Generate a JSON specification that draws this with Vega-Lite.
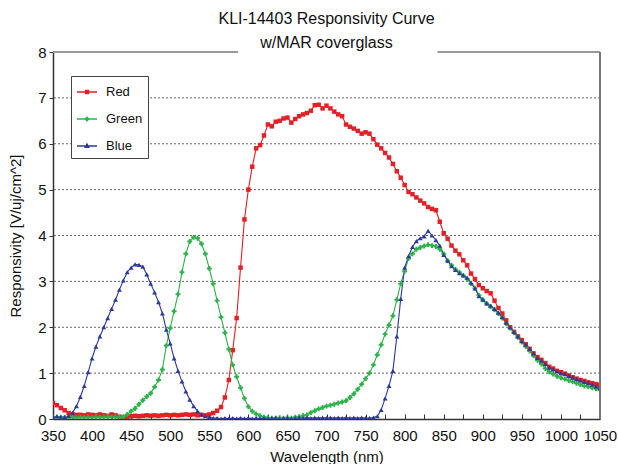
{
  "$schema": "https://vega.github.io/schema/vega-lite/v6.json",
  "autosize": {"type": "none"},
  "width": 547,
  "height": 367,
  "padding": {"left": 53, "top": 52, "right": 18, "bottom": 45},
  "background": "white",
  "config": {
    "font": "Liberation Sans",
    "view": {"stroke": null},
    "axis": {"labelFont": "Liberation Sans", "titleFont": "Liberation Sans", "labelColor": "#111", "titleColor": "#111", "titleFontWeight": "normal", "labelFontSize": 15, "titleFontSize": 15}
  },
  "title": {
    "text": ["KLI-14403 Responsivity Curve", "w/MAR coverglass"],
    "fontSize": 16,
    "fontWeight": "normal",
    "font": "Liberation Sans",
    "color": "#111",
    "lineHeight": 24,
    "anchor": "middle",
    "baseline": "bottom",
    "offset": 4,
    "dy": 26
  },
  "datasets": {
    "curves": [
      {"w":350,"Red":0.35,"Green":0.03,"Blue":0.05},
      {"w":355,"Red":0.30,"Green":0.04,"Blue":0.06},
      {"w":360,"Red":0.24,"Green":0.03,"Blue":0.05},
      {"w":365,"Red":0.19,"Green":0.04,"Blue":0.04},
      {"w":370,"Red":0.13,"Green":0.03,"Blue":0.07},
      {"w":375,"Red":0.10,"Green":0.04,"Blue":0.14},
      {"w":380,"Red":0.09,"Green":0.03,"Blue":0.28},
      {"w":385,"Red":0.09,"Green":0.04,"Blue":0.48},
      {"w":390,"Red":0.08,"Green":0.03,"Blue":0.72},
      {"w":395,"Red":0.10,"Green":0.04,"Blue":1.02},
      {"w":400,"Red":0.09,"Green":0.03,"Blue":1.32},
      {"w":405,"Red":0.08,"Green":0.05,"Blue":1.58},
      {"w":410,"Red":0.10,"Green":0.04,"Blue":1.80},
      {"w":415,"Red":0.08,"Green":0.04,"Blue":2.00},
      {"w":420,"Red":0.07,"Green":0.05,"Blue":2.20},
      {"w":425,"Red":0.10,"Green":0.04,"Blue":2.40},
      {"w":430,"Red":0.08,"Green":0.05,"Blue":2.60},
      {"w":435,"Red":0.05,"Green":0.04,"Blue":2.82},
      {"w":440,"Red":0.03,"Green":0.05,"Blue":3.02},
      {"w":445,"Red":0.05,"Green":0.10,"Blue":3.20},
      {"w":450,"Red":0.06,"Green":0.17,"Blue":3.30},
      {"w":455,"Red":0.07,"Green":0.23,"Blue":3.37},
      {"w":460,"Red":0.06,"Green":0.32,"Blue":3.36},
      {"w":465,"Red":0.07,"Green":0.41,"Blue":3.32},
      {"w":470,"Red":0.08,"Green":0.49,"Blue":3.15},
      {"w":475,"Red":0.07,"Green":0.56,"Blue":2.95},
      {"w":480,"Red":0.08,"Green":0.70,"Blue":2.76},
      {"w":485,"Red":0.07,"Green":0.85,"Blue":2.55},
      {"w":490,"Red":0.08,"Green":1.08,"Blue":2.30},
      {"w":495,"Red":0.09,"Green":1.60,"Blue":1.95},
      {"w":500,"Red":0.08,"Green":1.98,"Blue":1.65},
      {"w":505,"Red":0.09,"Green":2.35,"Blue":1.32},
      {"w":510,"Red":0.08,"Green":2.72,"Blue":1.05},
      {"w":515,"Red":0.09,"Green":3.20,"Blue":0.82},
      {"w":520,"Red":0.10,"Green":3.60,"Blue":0.60},
      {"w":525,"Red":0.09,"Green":3.87,"Blue":0.42},
      {"w":530,"Red":0.10,"Green":3.96,"Blue":0.28},
      {"w":535,"Red":0.08,"Green":3.94,"Blue":0.17},
      {"w":540,"Red":0.09,"Green":3.82,"Blue":0.10},
      {"w":545,"Red":0.08,"Green":3.60,"Blue":0.06},
      {"w":550,"Red":0.10,"Green":3.28,"Blue":0.04},
      {"w":555,"Red":0.13,"Green":2.95,"Blue":0.02},
      {"w":560,"Red":0.18,"Green":2.58,"Blue":0.02},
      {"w":565,"Red":0.26,"Green":2.22,"Blue":0.01},
      {"w":570,"Red":0.47,"Green":1.88,"Blue":0.02},
      {"w":575,"Red":0.85,"Green":1.52,"Blue":0.01},
      {"w":580,"Red":1.50,"Green":1.18,"Blue":0.02},
      {"w":585,"Red":2.20,"Green":0.92,"Blue":0.01},
      {"w":590,"Red":3.30,"Green":0.68,"Blue":0.02},
      {"w":595,"Red":4.35,"Green":0.45,"Blue":0.01},
      {"w":600,"Red":5.00,"Green":0.27,"Blue":0.02},
      {"w":605,"Red":5.50,"Green":0.17,"Blue":0.01},
      {"w":610,"Red":5.90,"Green":0.11,"Blue":0.02},
      {"w":615,"Red":5.97,"Green":0.07,"Blue":0.01},
      {"w":620,"Red":6.18,"Green":0.04,"Blue":0.02},
      {"w":625,"Red":6.42,"Green":0.03,"Blue":0.01},
      {"w":630,"Red":6.38,"Green":0.02,"Blue":0.02},
      {"w":635,"Red":6.48,"Green":0.02,"Blue":0.03},
      {"w":640,"Red":6.50,"Green":0.03,"Blue":0.01},
      {"w":645,"Red":6.55,"Green":0.02,"Blue":0.02},
      {"w":650,"Red":6.57,"Green":0.03,"Blue":0.03},
      {"w":655,"Red":6.46,"Green":0.02,"Blue":0.01},
      {"w":660,"Red":6.54,"Green":0.04,"Blue":0.02},
      {"w":665,"Red":6.60,"Green":0.05,"Blue":0.03},
      {"w":670,"Red":6.64,"Green":0.07,"Blue":0.02},
      {"w":675,"Red":6.67,"Green":0.09,"Blue":0.03},
      {"w":680,"Red":6.72,"Green":0.14,"Blue":0.02},
      {"w":685,"Red":6.84,"Green":0.18,"Blue":0.03},
      {"w":690,"Red":6.85,"Green":0.22,"Blue":0.02},
      {"w":695,"Red":6.77,"Green":0.25,"Blue":0.03},
      {"w":700,"Red":6.83,"Green":0.28,"Blue":0.02},
      {"w":705,"Red":6.77,"Green":0.30,"Blue":0.03},
      {"w":710,"Red":6.70,"Green":0.32,"Blue":0.02},
      {"w":715,"Red":6.64,"Green":0.35,"Blue":0.03},
      {"w":720,"Red":6.60,"Green":0.37,"Blue":0.02},
      {"w":725,"Red":6.42,"Green":0.40,"Blue":0.03},
      {"w":730,"Red":6.37,"Green":0.47,"Blue":0.02},
      {"w":735,"Red":6.33,"Green":0.55,"Blue":0.03},
      {"w":740,"Red":6.28,"Green":0.65,"Blue":0.02},
      {"w":745,"Red":6.22,"Green":0.76,"Blue":0.03},
      {"w":750,"Red":6.25,"Green":0.88,"Blue":0.02},
      {"w":755,"Red":6.22,"Green":1.00,"Blue":0.02},
      {"w":760,"Red":6.10,"Green":1.18,"Blue":0.03},
      {"w":765,"Red":5.98,"Green":1.40,"Blue":0.06},
      {"w":770,"Red":5.90,"Green":1.62,"Blue":0.20},
      {"w":775,"Red":5.80,"Green":1.85,"Blue":0.45},
      {"w":780,"Red":5.70,"Green":2.05,"Blue":0.72},
      {"w":785,"Red":5.56,"Green":2.25,"Blue":1.05},
      {"w":790,"Red":5.40,"Green":2.60,"Blue":1.80},
      {"w":795,"Red":5.26,"Green":2.95,"Blue":2.62},
      {"w":800,"Red":5.10,"Green":3.22,"Blue":3.30},
      {"w":805,"Red":4.95,"Green":3.50,"Blue":3.55},
      {"w":810,"Red":4.90,"Green":3.60,"Blue":3.75},
      {"w":815,"Red":4.83,"Green":3.70,"Blue":3.88},
      {"w":820,"Red":4.76,"Green":3.74,"Blue":3.94},
      {"w":825,"Red":4.70,"Green":3.77,"Blue":3.98},
      {"w":830,"Red":4.62,"Green":3.80,"Blue":4.10},
      {"w":835,"Red":4.58,"Green":3.78,"Blue":4.00},
      {"w":840,"Red":4.55,"Green":3.76,"Blue":3.90},
      {"w":845,"Red":4.30,"Green":3.70,"Blue":3.78},
      {"w":850,"Red":4.05,"Green":3.60,"Blue":3.58},
      {"w":855,"Red":3.93,"Green":3.45,"Blue":3.45},
      {"w":860,"Red":3.78,"Green":3.35,"Blue":3.33},
      {"w":865,"Red":3.67,"Green":3.26,"Blue":3.25},
      {"w":870,"Red":3.59,"Green":3.20,"Blue":3.18},
      {"w":875,"Red":3.46,"Green":3.13,"Blue":3.13},
      {"w":880,"Red":3.35,"Green":3.05,"Blue":3.08},
      {"w":885,"Red":3.17,"Green":2.95,"Blue":2.97},
      {"w":890,"Red":3.05,"Green":2.85,"Blue":2.85},
      {"w":895,"Red":2.92,"Green":2.70,"Blue":2.68},
      {"w":900,"Red":2.85,"Green":2.60,"Blue":2.60},
      {"w":905,"Red":2.79,"Green":2.52,"Blue":2.52},
      {"w":910,"Red":2.74,"Green":2.45,"Blue":2.47},
      {"w":915,"Red":2.58,"Green":2.38,"Blue":2.40},
      {"w":920,"Red":2.42,"Green":2.30,"Blue":2.32},
      {"w":925,"Red":2.30,"Green":2.20,"Blue":2.22},
      {"w":930,"Red":2.15,"Green":2.08,"Blue":2.10},
      {"w":935,"Red":2.00,"Green":1.98,"Blue":2.00},
      {"w":940,"Red":1.90,"Green":1.88,"Blue":1.90},
      {"w":945,"Red":1.80,"Green":1.78,"Blue":1.80},
      {"w":950,"Red":1.72,"Green":1.68,"Blue":1.70},
      {"w":955,"Red":1.63,"Green":1.58,"Blue":1.62},
      {"w":960,"Red":1.53,"Green":1.48,"Blue":1.53},
      {"w":965,"Red":1.43,"Green":1.38,"Blue":1.43},
      {"w":970,"Red":1.35,"Green":1.28,"Blue":1.33},
      {"w":975,"Red":1.29,"Green":1.20,"Blue":1.27},
      {"w":980,"Red":1.22,"Green":1.10,"Blue":1.20},
      {"w":985,"Red":1.14,"Green":1.03,"Blue":1.12},
      {"w":990,"Red":1.10,"Green":0.98,"Blue":1.08},
      {"w":995,"Red":1.05,"Green":0.93,"Blue":1.04},
      {"w":1000,"Red":1.02,"Green":0.90,"Blue":1.00},
      {"w":1005,"Red":0.99,"Green":0.87,"Blue":0.98},
      {"w":1010,"Red":0.95,"Green":0.84,"Blue":0.94},
      {"w":1015,"Red":0.91,"Green":0.81,"Blue":0.90},
      {"w":1020,"Red":0.88,"Green":0.78,"Blue":0.87},
      {"w":1025,"Red":0.85,"Green":0.75,"Blue":0.84},
      {"w":1030,"Red":0.83,"Green":0.72,"Blue":0.81},
      {"w":1035,"Red":0.80,"Green":0.70,"Blue":0.78},
      {"w":1040,"Red":0.78,"Green":0.68,"Blue":0.75},
      {"w":1045,"Red":0.76,"Green":0.66,"Blue":0.71},
      {"w":1050,"Red":0.74,"Green":0.63,"Blue":0.68}
    ],
    "gridlines": [
      {"g": 1}, {"g": 2}, {"g": 3}, {"g": 4}, {"g": 5}, {"g": 6}, {"g": 7}
    ],
    "topborder": [
      {"a": 350, "b": 587, "v": 8},
      {"a": 842, "b": 1050, "v": 8}
    ],
    "rightborder": [
      {"a": 1050, "v0": 0, "v1": 8}
    ]
  },
  "layer": [
    {
      "data": {"name": "gridlines"},
      "mark": {"type": "rule", "color": "#666", "strokeWidth": 1, "strokeDash": [2, 2]},
      "encoding": {
        "y": {"field": "g", "type": "quantitative"}
      }
    },
    {
      "data": {"name": "curves"},
      "transform": [{"fold": ["Red", "Green", "Blue"], "as": ["series", "resp"]}],
      "mark": {"type": "line", "strokeWidth": 1.1, "clip": true},
      "encoding": {
        "x": {
          "field": "w", "type": "quantitative",
          "scale": {"domain": [350, 1050], "nice": false, "zero": false},
          "axis": {
            "title": "Wavelength (nm)",
            "values": [350,375,400,425,450,475,500,525,550,575,600,625,650,675,700,725,750,775,800,825,850,875,900,925,950,975,1000,1025,1050],
            "tickCount": 200,
            "labelExpr": "datum.value % 50 === 0 ? datum.label : ''",
            "format": "d",
            "labelFlush": false,
            "labelOverlap": false,
            "grid": false,
            "domainColor": "#333",
            "domainWidth": 1.5,
            "tickColor": "#333",
            "tickSize": -5,
            "labelPadding": 14,
            "titlePadding": 6
          }
        },
        "y": {
          "field": "resp", "type": "quantitative",
          "scale": {"domain": [0, 8], "nice": false},
          "axis": {
            "title": "Responsivity [V/uj/cm^2]",
            "values": [0,0.5,1,1.5,2,2.5,3,3.5,4,4.5,5,5.5,6,6.5,7,7.5,8],
            "tickCount": 200,
            "format": "d",
            "labelExpr": "datum.value % 1 === 0 ? datum.label : ''",
            "labelOverlap": false,
            "labelFlush": false,
            "grid": false,
            "domainColor": "#333",
            "domainWidth": 1.5,
            "tickColor": "#333",
            "tickSize": 4,
            "labelPadding": 3,
            "titlePadding": 14
          }
        },
        "color": {
          "field": "series", "type": "nominal",
          "scale": {"domain": ["Red", "Green", "Blue"], "range": ["#e41f26", "#2db24a", "#2b3a98"]},
          "legend": {
            "title": null,
            "orient": "none",
            "legendX": 18,
            "legendY": 24,
            "direction": "vertical",
            "fillColor": "white",
            "strokeColor": "#444",
            "padding": 5,
            "labelFont": "Liberation Sans",
            "labelFontSize": 13,
            "labelColor": "#111",
            "labelOffset": 8,
            "symbolSize": 400,
            "symbolStrokeWidth": 1.3,
            "rowPadding": 9,
            "encode": {
              "symbols": {
                "update": {
                  "shape": {"signal": "datum.value === 'Red' ? 'M-1,0H1M-0.15,-0.15H0.15V0.15H-0.15Z' : datum.value === 'Green' ? 'M-1,0H1M0,-0.18L0.18,0L0,0.18L-0.18,0Z' : 'M-1,0H1M0,-0.2L0.18,0.14H-0.18Z'"},
                  "fill": {"signal": "datum.value === 'Red' ? '#e41f26' : datum.value === 'Green' ? '#2db24a' : '#2b3a98'"},
                  "stroke": {"signal": "datum.value === 'Red' ? '#e41f26' : datum.value === 'Green' ? '#2db24a' : '#2b3a98'"}
                }
              }
            }
          }
        }
      }
    },
    {
      "data": {"name": "curves"},
      "transform": [{"fold": ["Red", "Green", "Blue"], "as": ["series", "resp"]}, {"filter": "datum.series === 'Red'"}],
      "mark": {"type": "point", "shape": "square", "filled": true, "size": 20, "opacity": 1, "clip": true},
      "encoding": {
        "x": {"field": "w", "type": "quantitative"},
        "y": {"field": "resp", "type": "quantitative"},
        "color": {"field": "series", "type": "nominal"}
      }
    },
    {
      "data": {"name": "curves"},
      "transform": [{"fold": ["Red", "Green", "Blue"], "as": ["series", "resp"]}, {"filter": "datum.series === 'Green'"}],
      "mark": {"type": "point", "shape": "cross", "filled": true, "size": 24, "opacity": 1, "clip": true},
      "encoding": {
        "x": {"field": "w", "type": "quantitative"},
        "y": {"field": "resp", "type": "quantitative"},
        "color": {"field": "series", "type": "nominal"}
      }
    },
    {
      "data": {"name": "curves"},
      "transform": [{"fold": ["Red", "Green", "Blue"], "as": ["series", "resp"]}, {"filter": "datum.series === 'Blue'"}],
      "mark": {"type": "point", "shape": "triangle-up", "filled": true, "size": 24, "opacity": 1, "clip": true},
      "encoding": {
        "x": {"field": "w", "type": "quantitative"},
        "y": {"field": "resp", "type": "quantitative"},
        "color": {"field": "series", "type": "nominal"}
      }
    },
    {
      "data": {"name": "topborder"},
      "mark": {"type": "rule", "color": "#999", "strokeWidth": 2},
      "encoding": {
        "x": {"field": "a", "type": "quantitative"},
        "x2": {"field": "b"},
        "y": {"field": "v", "type": "quantitative"}
      }
    },
    {
      "data": {"name": "rightborder"},
      "mark": {"type": "rule", "color": "#777", "strokeWidth": 2},
      "encoding": {
        "x": {"field": "a", "type": "quantitative"},
        "y": {"field": "v0", "type": "quantitative"},
        "y2": {"field": "v1"}
      }
    }
  ]
}
